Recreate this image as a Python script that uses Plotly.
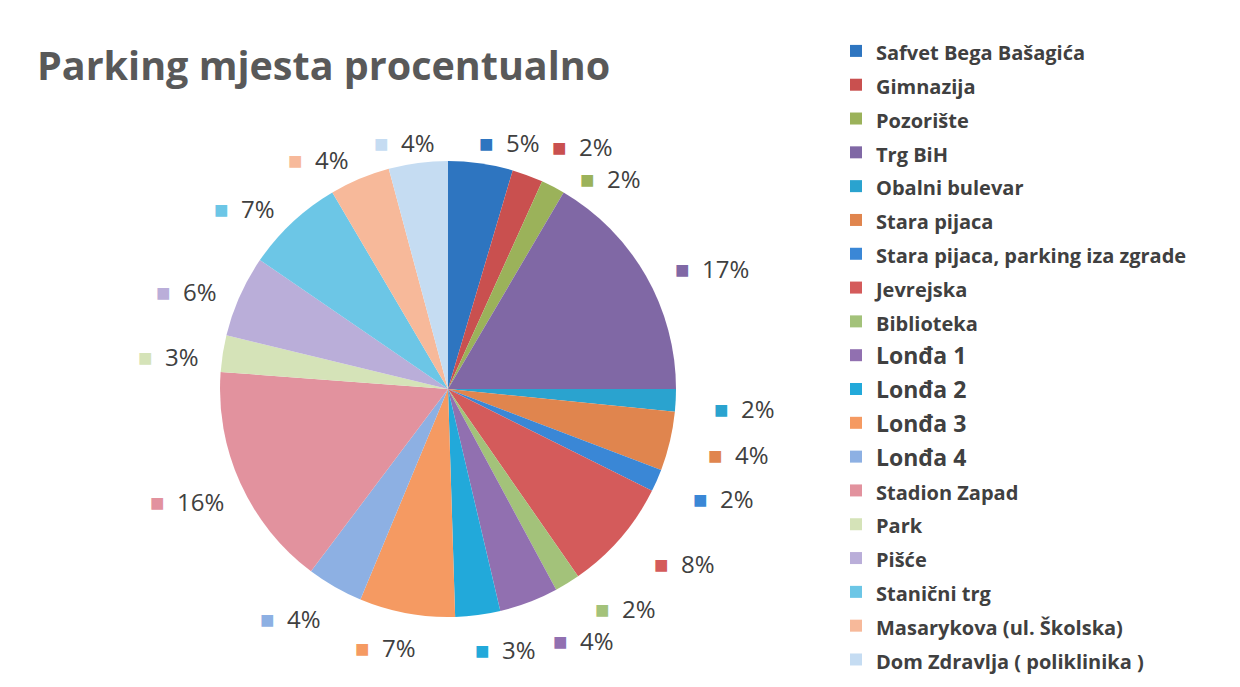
import numpy as np
import plotly.graph_objects as go

labels = ["Safvet Bega Bašagića", "Gimnazija", "Pozorište", "Trg BiH", "Obalni bulevar",
          "Stara pijaca", "Stara pijaca, parking iza zgrade", "Jevrejska", "Biblioteka",
          "Lonđa 1", "Lonđa 2", "Lonđa 3", "Lonđa 4", "Stadion Zapad", "Park", "Pišće",
          "Stanični trg", "Masarykova (ul. Školska)", "Dom Zdravlja ( poliklinika )"]
values = [4.6, 2.2, 1.7, 16.6, 1.6, 4.2, 1.6, 8.0, 1.8, 4.2, 3.2, 6.8, 4.0, 16.0, 2.6, 5.8,
          7.0, 4.3, 4.2]
colors = ["#2E75C0", "#C9504F", "#9BB25A", "#8068A5", "#2AA3CF", "#E0854E", "#3A87D6",
          "#D45B5B", "#A3C27A", "#9170B0", "#22A9DA", "#F59A62", "#8DB0E3", "#E2929E",
          "#D5E3B8", "#BAAED9", "#6CC6E6", "#F7B99A", "#C5DCF2"]

W, H = 1240, 687
cx, cy, r = 448, 389, 228


def dom(rad):
    return dict(x=[(cx - rad) / W, (cx + rad) / W], y=[1 - (cy + rad) / H, 1 - (cy - rad) / H])


legend_names = [f'<span style="font-size:{23 if n.startswith("Lonđa") else 20}px">{n}</span>'
                for n in labels]

fig = go.Figure()
fig.add_trace(go.Pie(
    labels=legend_names, values=values, sort=False, direction="clockwise", rotation=0,
    marker=dict(colors=colors, line=dict(width=0)),
    textinfo="none", domain=dom(r), hoverinfo="percent",
))

# percent labels placed around the pie at each slice's mid angle (clockwise from 12 o'clock)
vals = np.array(values)
frac = vals / vals.sum()
mid = (np.cumsum(frac) - frac / 2) * 2 * np.pi
lx0, ly0, ax, ay, shift = 455, 396, 250, 256, 40
s, co = np.sin(mid), np.cos(mid)
px = lx0 + ax * s + shift * np.clip(s / 0.3, -1, 1)
py = ly0 - ay * co

# simple de-overlap pass between neighbouring labels (vertical push)
min_dy, min_dx = 32, 62
for _ in range(5):
    for i in range(len(px) - 1):
        j = i + 1
        if abs(px[i] - px[j]) < min_dx and abs(py[i] - py[j]) < min_dy:
            d = (min_dy - abs(py[i] - py[j])) / 2
            if py[i] <= py[j]:
                py[i] -= d
                py[j] += d
            else:
                py[i] += d
                py[j] -= d

annotations = []
for f, x, y, c in zip(frac, px, py, colors):
    annotations.append(dict(
        text=f'<span style="color:{c}">■</span>  {round(f * 100)}%',
        x=x / W, y=1 - y / H, xref="paper", yref="paper",
        xanchor="center", yanchor="middle", showarrow=False, borderpad=0,
        font=dict(family="Open Sans", size=24, color="#404040")))

annotations.append(dict(text="<b>Parking mjesta procentualno</b>", x=35 / W, y=1 - 36 / H,
                        xref="paper", yref="paper", xanchor="left", yanchor="top",
                        showarrow=False,
                        font=dict(family="Open Sans", size=39.5, color="#595959")))

fig.update_layout(
    width=W, height=H,
    margin=dict(l=0, r=0, t=0, b=0),
    paper_bgcolor="white",
    showlegend=True,
    legend=dict(x=836 / W, y=1 - 29 / H, xanchor="left", yanchor="top",
                font=dict(family="Open Sans", size=23.7, color="#404040", weight="bold"),
                bgcolor="rgba(0,0,0,0)"),
    annotations=annotations,
)

fig.write_html("out.html")
